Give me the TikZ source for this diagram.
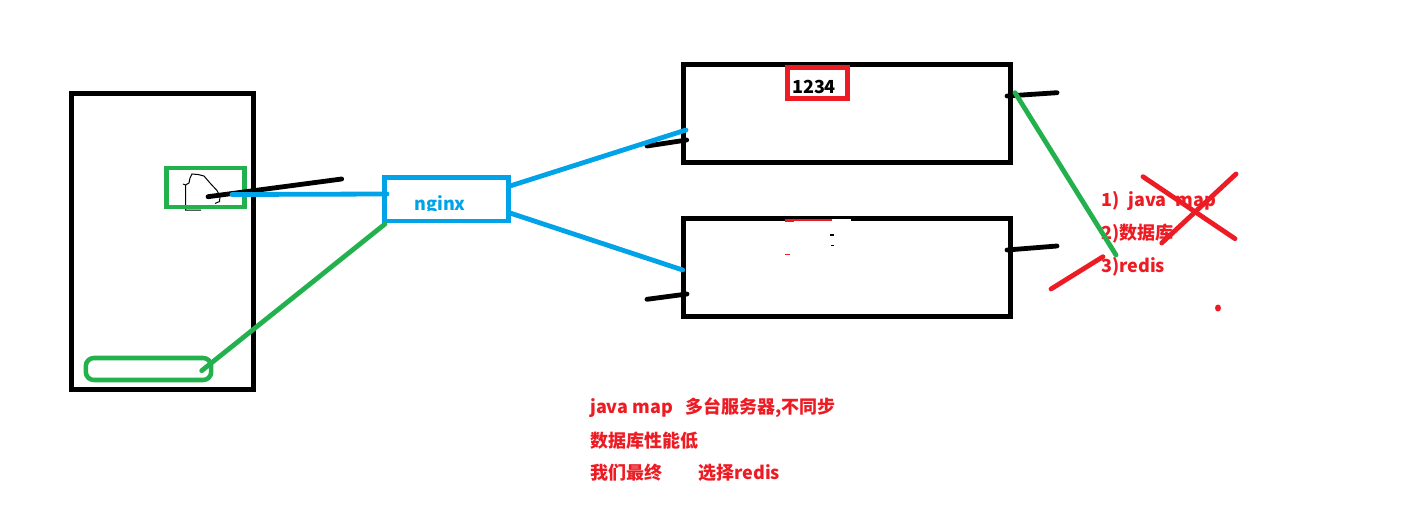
\documentclass[tikz,border=0pt]{standalone}
\usepackage{fontspec}
\setmainfont{Noto Sans CJK SC}
\definecolor{pblue}{HTML}{00A2E8}
\definecolor{pgreen}{HTML}{22B14C}
\definecolor{pred}{HTML}{ED1C24}
\tikzset{
  px/.style={x=0.75pt,y=-0.75pt},
  frame/.style={draw=black,line width=3.75pt,inner sep=0pt,minimum width=#1},
  tickline/.style={draw=black,line width=3.6pt,line cap=round},
  bluewire/.style={draw=pblue,line width=3.6pt,line cap=round},
  greenwire/.style={draw=pgreen,line width=3.6pt,line cap=round},
  redstroke/.style={draw=pred,line width=3.6pt,line cap=round},
  redtext/.style={text=pred,font=\fontsize{13.5pt}{16pt}\selectfont\bfseries,inner sep=0pt,anchor=west},
}
\begin{document}
\begin{tikzpicture}[px]
\useasboundingbox (0,0) rectangle (1417,528);
\fill[white] (0,0) rectangle (1417,528);
% frames
\node[frame=136.5pt,minimum height=221.25pt] (client) at (162.75,241.5) {};
\node[frame=245.25pt,minimum height=73.5pt] (s1) at (847,113.5) {};
\node[frame=245.25pt,minimum height=73.5pt] (s2) at (847,267.5) {};
% erased remains in second server
\fill[pred] (785,219) rectangle (832,220.5);
\fill[pred] (785,219) rectangle (794,222);
\fill[white] (832,219) rectangle (851,221);
\fill[black] (830,234) rectangle (834,236);
\fill[black] (831,245) rectangle (834,246);
\fill[pred] (785,254) rectangle (790,255);
% red box
\node[draw=pred,line width=3.75pt,inner sep=0pt,minimum width=45pt,minimum height=23.25pt] (val) at (817.5,83) {};
\node[font=\fontsize{13.5pt}{16pt}\selectfont\bfseries,inner sep=0pt] (valtxt) at (814,87) {1234};
% hand scribble
\draw[black,line width=0.75pt] (183,184) -- (185.5,185) -- (185.5,210) -- (186,210) -- (201,210)
  (185.5,185) -- (189,183) -- (190,178) -- (192,174) -- (198,174.5) -- (204,176) -- (210,183) -- (217,190.5) -- (220,196.5) -- (219.5,201.5) -- (215,203.5);
% session boxes
\node[draw=pgreen,line width=3.5pt,inner sep=0pt,minimum width=58.5pt,minimum height=29.25pt] (sess) at (205.5,187.5) {};
\node[draw=pgreen,line width=3.4pt,rounded corners=6pt,inner sep=0pt,minimum width=94pt,minimum height=16.5pt] (cookie) at (148.5,369) {};
% coordinates of free ends
\coordinate (a1) at (208,196.7);
\coordinate (a2) at (341.7,179);
\coordinate (b1) at (232,194.5);
\coordinate (c1) at (201.7,370.7);
\coordinate (n1) at (387,194);
\coordinate (n2) at (385,224);
\coordinate (n3) at (510,186);
\coordinate (n4) at (510,213);
\coordinate (s1in) at (686,130);
\coordinate (s2in) at (682.7,270);
\coordinate (t1a) at (647,146);
\coordinate (t1b) at (686.7,140);
\coordinate (t2a) at (647,299.3);
\coordinate (t2b) at (687,294);
\coordinate (r1a) at (1007,96);
\coordinate (r1b) at (1057,92.7);
\coordinate (r2a) at (1007,250);
\coordinate (r2b) at (1057,246);
\coordinate (g1) at (1015,92.7);
\coordinate (g2) at (1116,255);
% ticks
\draw[tickline] (a1) -- (a2);
\draw[tickline] (t1a) -- (t1b);
\draw[tickline] (t2a) -- (t2b);
\draw[tickline] (r1a) -- (r1b);
\draw[tickline] (r2a) -- (r2b);
% nginx
\node[draw=pblue,line width=3.5pt,inner sep=0pt,minimum width=93pt,minimum height=32.6pt] (nginx) at (446.5,199.25) {};
\begin{scope}
\clip (400,190) rectangle (480,210);
\node[text=pblue,font=\fontsize{13.5pt}{16pt}\selectfont\bfseries,inner sep=0pt] (nginxtxt) at (440,205.5) {nginx};
\end{scope}
% wires
\draw[bluewire] (b1) -- (n1);
\draw[greenwire] (c1) -- (n2);
\draw[bluewire] (n3) -- (s1in);
\draw[bluewire] (n4) -- (s2in);
% side list
\node[redtext] (o1) at (1101,201) {1)\hspace{0.5em}java\hspace{0.5em}map};
\node[redtext] (o2) at (1101,233.5) {2)数据库};
\node[redtext] (o3) at (1101,267) {3)redis};
\draw[greenwire] (g1) -- (g2);
\coordinate (x1) at (1143,176.7);
\coordinate (x2) at (1235,238.7);
\coordinate (x3) at (1236,174);
\coordinate (x4) at (1161.7,243);
\coordinate (x5) at (1051,289);
\coordinate (x6) at (1103,256.7);
\draw[redstroke] (x1) -- (x2);
\draw[redstroke] (x3) -- (x4);
\draw[redstroke] (x5) -- (x6);
\fill[pred] (1218,308) ellipse [x radius=3,y radius=3.5];
% bottom notes
\node[redtext] (l1) at (590,408) {java map\hspace{0.7em}多台服务器,不同步};
\node[redtext] (l2) at (590,441) {数据库性能低};
\node[redtext] (l3) at (590,473) {我们最终\hspace{2em}选择redis};
\end{tikzpicture}
\end{document}
